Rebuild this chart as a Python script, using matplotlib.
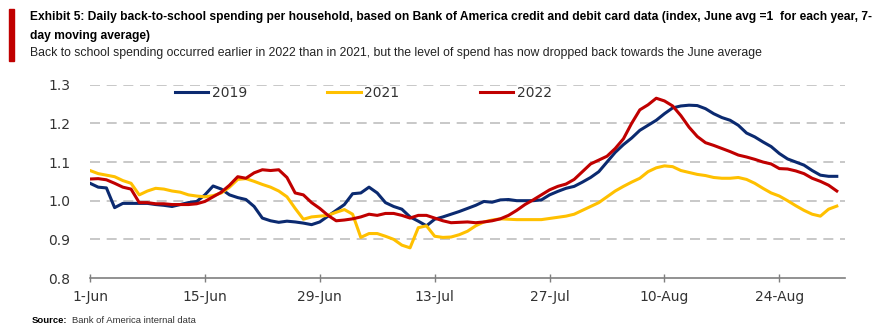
import matplotlib
matplotlib.use("Agg")
import matplotlib.pyplot as plt
from matplotlib import font_manager as fm
import pandas as pd

dates = pd.date_range("2022-06-01", "2022-08-31", freq="D")

s2019 = [1.045, 1.035, 1.033, 0.982, 0.993, 0.993, 0.993, 0.993, 0.990, 0.988,
         0.985, 0.990, 0.995, 0.998, 1.015, 1.038, 1.030, 1.015, 1.008, 1.003,
         0.985, 0.955, 0.948, 0.944, 0.947, 0.945, 0.942, 0.938, 0.945, 0.960,
         0.975, 0.990, 1.018, 1.020, 1.035, 1.020, 0.995, 0.985, 0.978, 0.958,
         0.947, 0.935, 0.952, 0.958, 0.965, 0.972, 0.980, 0.988, 0.998, 0.996,
         1.002, 1.003, 1.000, 1.000, 1.000, 1.002, 1.015, 1.024, 1.032, 1.037,
         1.048, 1.060, 1.075, 1.100, 1.125, 1.145, 1.162, 1.182, 1.195, 1.208,
         1.225, 1.240, 1.245, 1.247, 1.246, 1.238, 1.225, 1.215, 1.208, 1.195,
         1.175, 1.165, 1.152, 1.140, 1.122, 1.108, 1.100, 1.092, 1.078, 1.066,
         1.063, 1.063]

s2021 = [1.078, 1.070, 1.066, 1.062, 1.052, 1.045, 1.015, 1.025, 1.032, 1.030,
         1.025, 1.022, 1.015, 1.012, 1.010, 1.013, 1.020, 1.035, 1.055, 1.057,
         1.050, 1.042, 1.035, 1.025, 1.010, 0.980, 0.952, 0.958, 0.960, 0.962,
         0.970, 0.977, 0.965, 0.905, 0.915, 0.915, 0.908, 0.900, 0.885, 0.878,
         0.930, 0.935, 0.908, 0.905, 0.906, 0.912, 0.921, 0.935, 0.945, 0.950,
         0.953, 0.952, 0.951, 0.951, 0.951, 0.951, 0.954, 0.957, 0.960, 0.965,
         0.975, 0.985, 0.995, 1.010, 1.025, 1.037, 1.048, 1.058, 1.075, 1.085,
         1.090, 1.088, 1.078, 1.073, 1.068, 1.065, 1.060, 1.058, 1.058, 1.060,
         1.055, 1.045, 1.032, 1.020, 1.012, 1.000, 0.987, 0.975, 0.965, 0.960,
         0.978, 0.986]

s2022 = [1.056, 1.057, 1.054, 1.045, 1.035, 1.030, 0.995, 0.995, 0.992, 0.992,
         0.990, 0.990, 0.990, 0.992, 0.998, 1.010, 1.022, 1.040, 1.062, 1.058,
         1.072, 1.080, 1.078, 1.080, 1.060, 1.020, 1.015, 0.995, 0.980, 0.962,
         0.948, 0.950, 0.953, 0.958, 0.965, 0.962, 0.967, 0.967, 0.962, 0.955,
         0.962, 0.962, 0.955, 0.948, 0.943, 0.944, 0.945, 0.943, 0.945, 0.948,
         0.953, 0.962, 0.975, 0.990, 1.002, 1.015, 1.028, 1.037, 1.043, 1.055,
         1.075, 1.095, 1.105, 1.115, 1.135, 1.160, 1.200, 1.235, 1.248, 1.265,
         1.258, 1.245, 1.220, 1.190, 1.166, 1.150, 1.143, 1.135, 1.127, 1.118,
         1.113, 1.107, 1.100, 1.095, 1.083, 1.082, 1.077, 1.070, 1.058, 1.050,
         1.040, 1.025]

series_names = ["2019", "2021", "2022"]
colors = ["#0B2A70", "#FFC000", "#C00000"]

tick_dates = ["2022-06-01", "2022-06-15", "2022-06-29", "2022-07-13",
              "2022-07-27", "2022-08-10", "2022-08-24"]
tick_labels = ["1-Jun", "15-Jun", "29-Jun", "13-Jul", "27-Jul", "10-Aug", "24-Aug"]
yticks = [0.8, 0.9, 1.0, 1.1, 1.2, 1.3]

title1 = ("Exhibit 5: Daily back-to-school spending per household, based on Bank of America "
          "credit and debit card data (index, June avg =1  for each year, 7-")
title2 = "day moving average)"
subtitle = ("Back to school spending occurred earlier in 2022 than in 2021, but the level of "
            "spend has now dropped back towards the June average")

# narrowest available family for the header
names = {f.name for f in fm.fontManager.ttflist}
if "Liberation Sans Narrow" in names:
    head_family = ["Liberation Sans Narrow", "DejaVu Sans"]
elif "Liberation Sans" in names:
    head_family = ["Liberation Sans", "DejaVu Sans"]
else:
    head_family = ["DejaVu Sans"]

plt.rcParams["font.family"] = ["DejaVu Sans"]

fig = plt.figure(figsize=(8.87, 3.35), dpi=100)
ax = fig.add_axes([90 / 887, 57 / 335, (845 - 90) / 887, (278 - 84.7) / 335])

for name, vals, c in zip(series_names, [s2019, s2021, s2022], colors):
    ax.plot(dates, vals, color=c, lw=2.2, label=name, solid_joinstyle="round")

ax.set_ylim(0.8, 1.3)
ax.set_xlim(pd.Timestamp("2022-06-01"), pd.Timestamp("2022-09-01"))
ax.set_yticks(yticks)
ax.set_yticklabels([f"{v:.1f}" for v in yticks], fontsize=10, color="#333333")
ax.set_xticks(pd.to_datetime(tick_dates))
ax.set_xticklabels(tick_labels, fontsize=10, color="#333333")
ax.tick_params(axis="y", length=0, pad=14)
ax.tick_params(axis="x", direction="inout", length=6, width=1, color="#7F7F7F", pad=6)

for v in yticks[1:]:
    ax.axhline(v, color="#BFBFBF", lw=1.2, ls=(0, (6, 4)), zorder=0)

for s in ["top", "right", "left"]:
    ax.spines[s].set_visible(False)
ax.spines["bottom"].set_color("#7F7F7F")
ax.spines["bottom"].set_linewidth(1.2)

leg = ax.legend(loc="upper center", bbox_to_anchor=(0.362, 1.06), ncol=3, frameon=False,
                fontsize=10, handlelength=2.4, columnspacing=5.8, handletextpad=0.25)
for t in leg.get_texts():
    t.set_color("#333333")

# header
fig.patches.append(plt.Rectangle((9 / 887, 1 - 61 / 335), 5 / 887, 52 / 335,
                                 transform=fig.transFigure, color="#C00000"))
t1 = fig.text(30 / 887, 1 - 17 / 335, title1, fontsize=10.5, fontweight="bold",
              va="center", ha="left", color="#000000", family=head_family)
t2 = fig.text(30 / 887, 1 - 36 / 335, title2, fontsize=10.5, fontweight="bold",
              va="center", ha="left", color="#000000", family=head_family)
t3 = fig.text(30 / 887, 1 - 53 / 335, subtitle, fontsize=10, va="center", ha="left",
              color="#222222", family=head_family)
s2 = fig.text(68 / 887, 1 - 323 / 335, "Bank of America internal data", fontsize=7,
              va="baseline", ha="left", color="#333333", family=head_family)

# fit header widths to the reference extents
r = fig.canvas.get_renderer()
w1 = t1.get_window_extent(r).width
fs_title = 10.5 * 840 / w1
t1.set_fontsize(fs_title)
t2.set_fontsize(fs_title)
w3 = t3.get_window_extent(r).width
t3.set_fontsize(10 * 732 / w3)
ws2 = s2.get_window_extent(r).width
fs_src = 7 * 124 / ws2
s2.set_fontsize(fs_src)
s1 = fig.text(32 / 887, 1 - 323 / 335, "Source:", fontsize=fs_src, fontweight="bold",
              va="baseline", ha="left", family=head_family)
x_end = s1.get_window_extent(r).x1
s2.set_x((x_end + 5) / 887)

fig.savefig("out.png", dpi=100)
